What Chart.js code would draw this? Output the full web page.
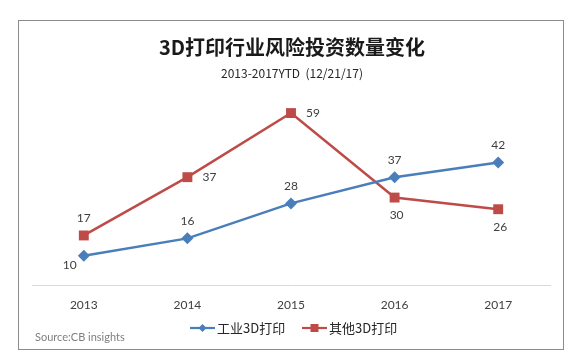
<!DOCTYPE html>
<html>
<head>
<meta charset="utf-8">
<script src="https://cdn.jsdelivr.net/npm/chart.js@4/dist/chart.umd.min.js"></script>
<style>
html,body{margin:0;padding:0;background:#fff;}
#wrap{position:relative;width:582px;height:364px;}
#frame{position:absolute;left:18px;top:20px;width:546px;height:330px;border:1px solid #8c8c8c;box-sizing:border-box;pointer-events:none;}
canvas{position:absolute;left:0;top:0;}
</style>
</head>
<body>
<div id="wrap">
<canvas id="c" width="582" height="364"></canvas>
<div id="frame"></div>
</div>
<script>
const categories = ["2013", "2014", "2015", "2016", "2017"];
const industrial = [10, 16, 28, 37, 42];
const other = [17, 37, 59, 30, 26];
const seriesNames = ["工业3D打印", "其他3D打印"];
const titleText = "3D打印行业风险投资数量变化";
const subtitleText = "2013-2017YTD  (12/21/17)";
const sourceText = "Source:CB insights";
// label placement per point: 'a' above, 'r' right, 'b' below, 'lb' left-below
const industrialLabelPos = ["lb", "a", "a", "a", "a"];
const otherLabelPos = ["a", "r", "r", "b", "b"];

const BLUE = "#4A7EBB";
const RED = "#BE4B48";
const TXT = "#404040";
const NUMFONT = "Lato, 'Open Sans', sans-serif";
const CJK = "'Noto Sans CJK SC', 'Noto Sans', sans-serif";

const decor = {
  id: "decor",
  afterDraw(chart) {
    const ctx = chart.ctx;
    ctx.save();
    // title
    ctx.fillStyle = "#1a1a1a";
    ctx.textAlign = "center";
    ctx.textBaseline = "middle";
    ctx.font = "bold 20px " + CJK;
    ctx.fillText(titleText, 292, 47);
    ctx.font = "12px " + CJK;
    ctx.fillStyle = "#262626";
    ctx.fillText(subtitleText, 292, 73);
    // data labels
    ctx.font = "12px " + NUMFONT;
    ctx.fillStyle = TXT;
    const posSets = [industrialLabelPos, otherLabelPos];
    chart.data.datasets.forEach((ds, di) => {
      const meta = chart.getDatasetMeta(di);
      meta.data.forEach((pt, i) => {
        const p = posSets[di][i];
        let x = pt.x, y = pt.y;
        if (p === "a") { y -= 17; }
        else if (p === "r") { x += 22; }
        else if (p === "b") { y += 18; x += 2; }
        else if (p === "lb") { x -= 14; y += 9; }
        ctx.fillText(String(ds.data[i]), x, y);
      });
    });
    // legend
    const legendY = 328;
    const items = [
      {x: 190, color: BLUE, shape: "diamond", label: seriesNames[0]},
      {x: 302, color: RED, shape: "square", label: seriesNames[1]}
    ];
    items.forEach(it => {
      ctx.strokeStyle = it.color;
      ctx.lineWidth = 2.2;
      ctx.beginPath();
      ctx.moveTo(it.x, legendY);
      ctx.lineTo(it.x + 25, legendY);
      ctx.stroke();
      ctx.fillStyle = it.color;
      const cx = it.x + 12.5;
      if (it.shape === "diamond") {
        ctx.beginPath();
        ctx.moveTo(cx, legendY - 4);
        ctx.lineTo(cx + 4, legendY);
        ctx.lineTo(cx, legendY + 4);
        ctx.lineTo(cx - 4, legendY);
        ctx.closePath();
        ctx.fill();
      } else {
        ctx.fillRect(cx - 4, legendY - 4, 8, 8);
      }
      ctx.fillStyle = "#262626";
      ctx.textAlign = "left";
      ctx.font = "13px " + CJK;
      ctx.fillText(it.label, it.x + 27, legendY);
    });
    // source
    ctx.font = "11px " + NUMFONT;
    ctx.fillStyle = "#7f7f7f";
    ctx.textAlign = "left";
    ctx.fillText(sourceText, 35, 337);
    ctx.restore();
  }
};

new Chart(document.getElementById("c"), {
  type: "line",
  data: {
    labels: categories,
    datasets: [
      {
        label: seriesNames[0], data: industrial,
        borderColor: BLUE, backgroundColor: BLUE, borderWidth: 2.5,
        pointStyle: "rectRot", pointRadius: 6, pointHoverRadius: 6,
        pointBorderWidth: 0, tension: 0
      },
      {
        label: seriesNames[1], data: other,
        borderColor: RED, backgroundColor: RED, borderWidth: 2.5,
        pointStyle: "rect", pointRadius: 7, pointHoverRadius: 7,
        pointBorderWidth: 0, tension: 0
      }
    ]
  },
  options: {
    responsive: false,
    animation: false,
    events: [],
    layout: { padding: { top: 81, left: 32, right: 32, bottom: 0 } },
    plugins: { legend: { display: false }, title: { display: false }, tooltip: { enabled: false } },
    scales: {
      x: {
        offset: true,
        grid: { display: false, drawTicks: false },
        border: { display: true, color: "#d9d9d9", width: 1 },
        ticks: { color: TXT, font: { family: NUMFONT, size: 12 }, padding: 13 },
        afterFit: (axis) => { axis.height = 79; }
      },
      y: {
        display: false, min: 0, max: 70
      }
    }
  },
  plugins: [decor]
});
</script>
</body>
</html>
